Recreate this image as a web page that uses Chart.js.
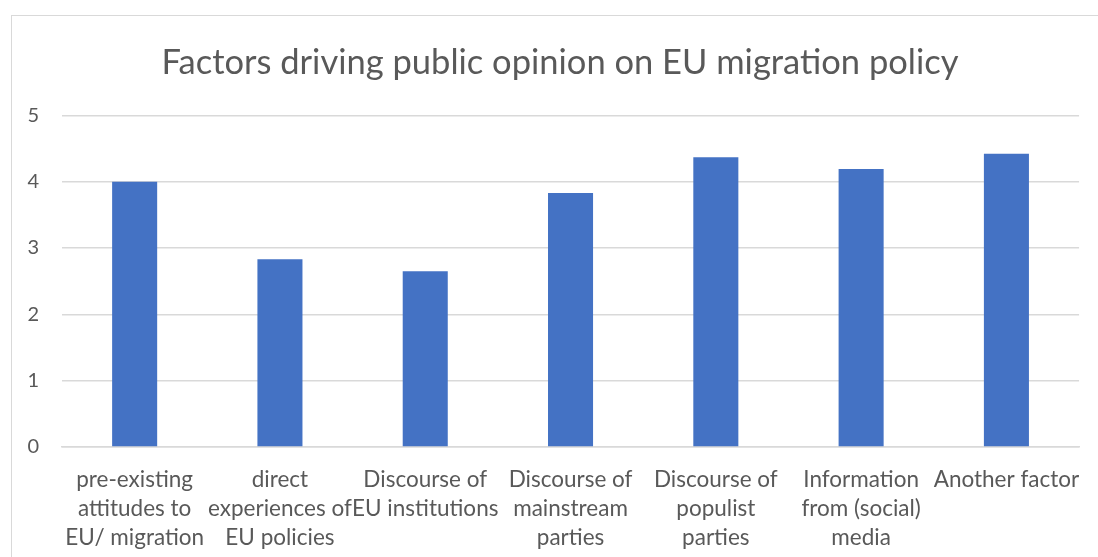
<!DOCTYPE html>
<html>
<head>
<meta charset="utf-8">
<script src="https://cdn.jsdelivr.net/npm/chart.js@4"></script>
<style>
  html, body { margin: 0; padding: 0; background: #fff; }
  #wrap { position: relative; width: 1098px; height: 557px; overflow: hidden; }
  #frame { position: absolute; left: 11px; top: 15px; width: 1100px; height: 560px; border: 1px solid #d9d9d9; }
  canvas { position: absolute; left: 0; top: 0; }
</style>
</head>
<body>
<div id="wrap">
  <div id="frame"></div>
  <canvas id="factorsChart" width="1098" height="557"></canvas>
</div>
<script>
// categories (already split into lines like the original)
const categories = [
    ["pre-existing", "attitudes to", "EU/ migration"],
    ["direct", "experiences of", "EU policies"],
    ["Discourse of", "EU institutions"],
    ["Discourse of", "mainstream", "parties"],
    ["Discourse of", "populist", "parties"],
    ["Information", "from (social)", "media"],
    ["Another factor"]
];
const scores = [4.0, 2.83, 2.65, 3.83, 4.37, 4.19, 4.42];
const yTicks = [0, 1, 2, 3, 4, 5];

const ctx = document.getElementById("factorsChart").getContext("2d");

// center the title over the bordered frame rather than the whole canvas
const shiftTitle = {
    id: "shiftTitle",
    afterLayout: (chart) => {
        if (chart.titleBlock) {
            chart.titleBlock.left = 22;
            chart.titleBlock.right = 1098;
        }
    },
};

new Chart(ctx, {
    type: "bar",
    data: {
        labels: categories,
        datasets: [
            {
                label: "Score",
                data: scores,
                backgroundColor: "#4472C4",
                borderWidth: 0,
                barPercentage: 0.62,
                categoryPercentage: 0.5,
            },
        ],
    },
    options: {
        responsive: false,
        animation: false,
        layout: {
            padding: { left: 0, right: 12, top: 0, bottom: 0 },
        },
        plugins: {
            legend: { display: false },
            tooltip: { enabled: false },
            title: {
                display: true,
                text: "Factors driving public opinion on EU migration policy",
                color: "#595959",
                font: { family: "Lato, 'Open Sans', sans-serif", size: 34.5, weight: "normal" },
                padding: { top: 42, bottom: 32 },
            },
        },
        scales: {
            y: {
                min: 0,
                max: 5,
                afterBuildTicks: (scale) => {
                    scale.ticks = yTicks.map((v) => ({ value: v }));
                },
                afterFit: (scale) => {
                    scale.width = 62;
                },
                border: { display: false },
                grid: { color: "#d9d9d9", lineWidth: 1.5, drawTicks: false },
                ticks: {
                    color: "#595959",
                    padding: 23,
                    font: { family: "Lato, 'Open Sans', sans-serif", size: 20 },
                },
            },
            x: {
                afterFit: (scale) => {
                    scale.height = 110;
                },
                border: { display: true, color: "#d9d9d9", width: 1.5 },
                grid: { display: false, drawTicks: false },
                ticks: {
                    color: "#595959",
                    padding: 18,
                    maxRotation: 0,
                    autoSkip: false,
                    font: { family: "Lato, 'Open Sans', sans-serif", size: 22.5, lineHeight: 1.29 },
                },
            },
        },
    },
    plugins: [shiftTitle],
});
</script>
</body>
</html>
